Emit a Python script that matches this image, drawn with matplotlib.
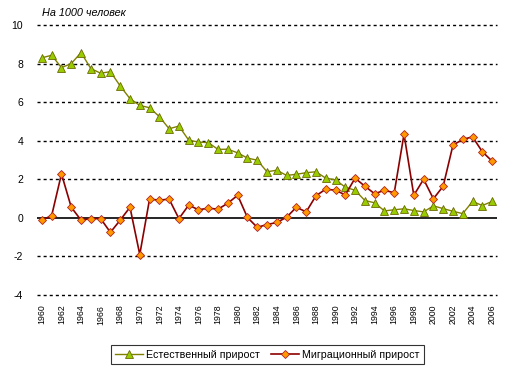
import matplotlib
matplotlib.use("Agg")
import matplotlib.pyplot as plt
import numpy as np

plt.rcParams['font.family'] = ['Liberation Sans', 'DejaVu Sans']

years = list(range(1960, 2007))
natural = [8.3, 8.43, 7.79, 8.0, 8.57, 7.74, 7.5, 7.58, 6.84, 6.18,
           5.83, 5.71, 5.25, 4.62, 4.76, 4.03, 3.93, 3.9, 3.55, 3.56,
           3.37, 3.1, 2.99, 2.39, 2.47, 2.2, 2.26, 2.34, 2.39, 2.06,
           1.97, 1.59, 1.43, 0.9, 0.78, 0.36, 0.42, 0.47, 0.38, 0.31,
           0.62, 0.48, 0.34, 0.22, 0.85, 0.64, 0.85]
migration = [-0.12, 0.12, 2.28, 0.55, -0.12, -0.04, -0.04, -0.75, -0.12, 0.55,
             -1.9, 0.97, 0.92, 0.97, -0.04, 0.66, 0.42, 0.5, 0.45, 0.76,
             1.17, 0.02, -0.49, -0.35, -0.24, 0.03, 0.55, 0.31, 1.14, 1.49,
             1.43, 1.19, 2.06, 1.64, 1.25, 1.43, 1.3, 4.34, 1.17, 2.0,
             0.99, 1.64, 3.77, 4.07, 4.2, 3.43, 2.94]
yticks = [-4, -2, 0, 2, 4, 6, 8, 10]

fig = plt.figure(figsize=(5.13, 3.74), dpi=100)
ax = fig.add_axes([37/513, 1-295/374, 460/513, 270/374])

x = np.arange(len(years))
for yv in yticks:
    if yv == 0:
        ax.axhline(0, color='black', lw=1.2, zorder=1)
    else:
        ax.axhline(yv, color='black', lw=1.0, ls=(0, (2.2, 2.2)), zorder=1, clip_on=False)

l1, = ax.plot(x, natural, color='#808000', lw=1.0, marker='^', markersize=5.5,
              markerfacecolor='#99CC00', markeredgecolor='#6B6B00', markeredgewidth=0.6,
              label='Естественный прирост', zorder=3)
l2, = ax.plot(x, migration, color='#8B0000', lw=1.2, marker='D', markersize=4.4,
              markerfacecolor='#FF9900', markeredgecolor='#B22222', markeredgewidth=0.6,
              label='Миграционный прирост', zorder=4)

ax.set_xlim(-0.5, len(years) - 0.5)
ax.set_ylim(-4, 10)
ax.set_yticks(yticks)
ax.set_yticklabels([str(v) for v in yticks], fontsize=7.5)
ax.set_xticks(x[::2])
ax.set_xticklabels([str(y) for y in years[::2]], rotation=90, fontsize=6.3)
ax.tick_params(axis='both', length=0)
ax.tick_params(axis='y', pad=10)
ax.tick_params(axis='x', pad=7)
for s in ax.spines.values():
    s.set_visible(False)

fig.text(42/513, 1-13/374, 'На 1000 человек', fontsize=7.8, style='italic', va='center', ha='left')

leg = fig.legend(handles=[l1, l2], loc='center', bbox_to_anchor=(267.5/513, 1-354.5/374),
                 ncol=2, fontsize=7.7, frameon=True, fancybox=False, edgecolor='black',
                 handlelength=2.6, columnspacing=1.0, handletextpad=0.3, borderpad=0.4)
leg.get_frame().set_linewidth(0.8)

fig.savefig('out.png', dpi=100)
